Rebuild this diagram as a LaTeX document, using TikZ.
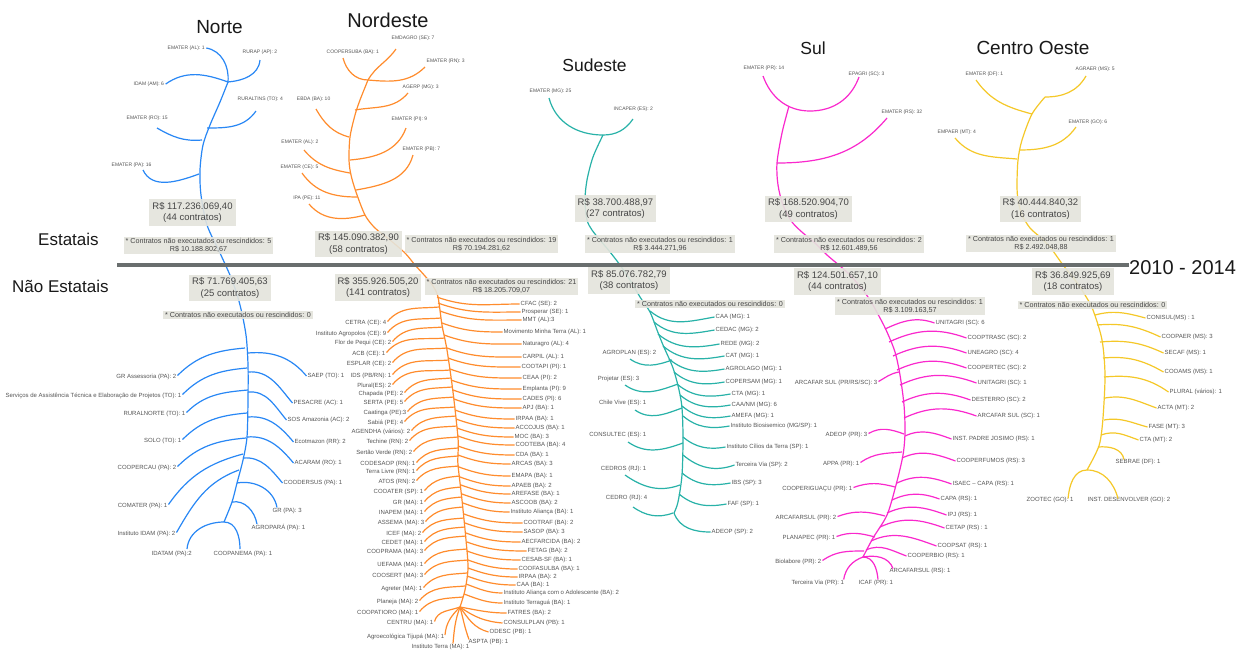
\documentclass[tikz,border=0pt]{standalone}
\usepackage{fontspec}
\setmainfont{Liberation Sans}
\definecolor{cN}{RGB}{40,135,245}
\definecolor{cNE}{RGB}{255,140,45}
\definecolor{cSE}{RGB}{40,178,168}
\definecolor{cS}{RGB}{250,40,205}
\definecolor{cCO}{RGB}{245,200,40}
\definecolor{boxc}{RGB}{228,228,220}
\definecolor{labc}{RGB}{85,85,85}
\definecolor{valc}{RGB}{70,70,70}
\definecolor{titc}{RGB}{25,25,25}
\definecolor{divc}{RGB}{105,110,110}
\tikzset{
 lbT/.style={font=\fontsize{5}{6}\selectfont,text=labc,inner sep=0.5pt},
 lbB/.style={font=\fontsize{6}{7}\selectfont,text=labc,inner sep=0.5pt},
 valbox/.style={fill=boxc,fill opacity=0.9,text opacity=1,text=valc,font=\fontsize{9.5}{11.5}\selectfont,align=center,inner xsep=3pt,inner ysep=3pt},
 notebox/.style={fill=boxc,fill opacity=0.9,text opacity=1,text=valc,font=\fontsize{7.2}{8}\selectfont,align=center,inner xsep=2pt,inner ysep=1.5pt},
 ttl/.style={text=titc,inner sep=0pt},
 lN/.style={draw=cN,line width=1.2pt},
 lNE/.style={draw=cNE,line width=1.2pt},
 lSE/.style={draw=cSE,line width=1.2pt},
 lS/.style={draw=cS,line width=1.2pt},
 lCO/.style={draw=cCO,line width=1.2pt},
 cNl/.style={out=45,in=185},
 cNr/.style={out=5,in=130},
 cNEr/.style={out=-20,in=180},
 cNEl/.style={out=50,in=185},
 cSEr/.style={out=-40,in=190},
 cSr/.style={out=25,in=160},
 cCOr/.style={out=10,in=160},
}
\newcommand\RR[8]{\node[lbB,anchor=west] (#3) at (#4,#5) {#8};\coordinate (#3j) at (#6,#7);\draw[#1] (#3j) to[#2] ([xshift=-0.5pt]#3.west);}
\newcommand\LL[8]{\node[lbB,anchor=east] (#3) at (#4,#5) {#8};\coordinate (#3j) at (#6,#7);\draw[#1] ([xshift=0.5pt,yshift=1.5pt]#3.east) to[#2] (#3j);}
\begin{document}
\begin{tikzpicture}[x=1pt,y=-1pt]
\fill[white] (0,0) rectangle (1242,649);
\useasboundingbox (0,0) rectangle (1242,649);

% ---------- trunks ----------
\draw[lN] plot[smooth] coordinates {(228,82) (220,102) (210,125) (203,145) (200,170) (201,195) (207,225) (220,253) (232,280) (240,305) (246,335) (248,365) (248,400) (247,437) (243,460) (237,483) (232,502) (224,522)};
\draw[lNE] plot[smooth] coordinates {(368,80) (360,100) (355,115) (350,137) (349,160) (351,175) (356,192) (365,215) (375,228) (390,240) (405,253) (415,265) (425,276) (433,286) (438,297) (442,325) (447,350) (453,392) (458,438) (458,455) (458,465) (462,500) (466,540) (468,568) (465,590) (460,607)};
\draw[lSE] plot[smooth] coordinates {(603,135) (593,157) (587,180) (585,200) (587,220) (592,230) (600,240) (610,252) (620,265) (630,280) (640,297) (650,312) (657,330) (663,345) (673,368) (679,390) (682,408) (683,438) (682,475) (678,502) (674,513)};
\draw[lS] plot[smooth] coordinates {(789,106) (782,133) (777,163) (778,185) (783,205) (792,222) (803,233) (815,243) (827,255) (850,275) (868,297) (880,318) (887,332) (895,352) (900,375) (904,405) (905,432) (903,455) (896,485) (887,515) (873,538) (863,557)};
\draw[lCO] plot[smooth] coordinates {(1045,97) (1032,114) (1022,140) (1018,160) (1017,185) (1018,200) (1022,215) (1030,228) (1040,237) (1050,247) (1063,265) (1075,280) (1085,295) (1093,310) (1102,340) (1105,375) (1103,418) (1100,442) (1095,455) (1087,470)};

% ---------- Norte top ----------
\node[lbT,anchor=west] (nt1) at (167,48) {EMATER (AL): 1};
\node[lbT,anchor=west] (nt2) at (242,52) {RURAP (AP): 2};
\node[lbT,anchor=west] (nt3) at (133,84) {IDAM (AM): 6};
\node[lbT,anchor=west] (nt4) at (237,99) {RURALTINS (TO): 4};
\node[lbT,anchor=west] (nt5) at (126,118) {EMATER (RO): 15};
\node[lbT,anchor=west] (nt6) at (111,165) {EMATER (PA): 16};
\coordinate (ntj1) at (228,82); \coordinate (ntj4) at (207,128);
\coordinate (ntj5) at (202,140); \coordinate (ntj6) at (199,174);
\coordinate (nte2) at (260,60); \coordinate (nte4) at (256,111);
\coordinate (nts5) at (157,128); \coordinate (nts6) at (143,170);
\draw[lN] ([xshift=1pt]nt1.east) to[out=-10,in=85] (ntj1);
\draw[lN] (ntj1) to[out=5,in=-95] (nte2);
\draw[lN] ([xshift=1pt]nt3.east) to[out=35,in=160] (ntj1);
\draw[lN] (ntj4) to[out=0,in=-125] (nte4);
\draw[lN] (nts5) to[out=-30,in=185] (ntj5);
\draw[lN] (nts6) to[out=-65,in=200] (ntj6);

% ---------- Norte bottom ----------
\LL{lN}{cNl}{nb1}{177}{377}{245}{348}{GR Assessoria (PA): 2}
\LL{lN}{cNl}{nb2}{182}{396}{247}{368}{Serviços de Assistência Técnica e Elaboração de Projetos (TO): 1}
\LL{lN}{cNl}{nb3}{186}{414}{248}{390}{RURALNORTE (TO): 1}
\LL{lN}{cNl}{nb4}{182}{441}{247}{413}{SOLO (TO): 1}
\LL{lN}{cNl}{nb5}{177}{468}{246}{438}{COOPERCAU (PA): 2}
\LL{lN}{{out=55,in=195}}{nb6}{168}{506}{243}{454}{COMATER (PA): 1}
\LL{lN}{{out=60,in=200}}{nb7}{176}{534}{239}{470}{Instituto IDAM (PA): 2}
\RR{lN}{cNr}{nb8}{307}{376}{248}{353}{SAEP (TO): 1}
\RR{lN}{cNr}{nb9}{293}{403}{248}{372}{PESACRE (AC): 1}
\RR{lN}{cNr}{nb10}{287}{420}{248}{392}{SOS Amazonia (AC): 2}
\RR{lN}{cNr}{nb11}{294}{442}{248}{417}{Ecotmazon (RR): 2}
\RR{lN}{cNr}{nb12}{294}{463}{247}{437}{ACARAM (RO): 1}
\RR{lN}{cNr}{nb13}{283}{483}{243}{458}{COODERSUS (PA): 1}
\node[lbB,anchor=west] (nb14) at (272,511) {GR (PA): 3};
\node[lbB,anchor=west] (nb15) at (251,528) {AGROPARÁ (PA): 1};
\coordinate (nb14j) at (237,483); \coordinate (nb15j) at (232,502);
\draw[lN] (nb14j) to[out=10,in=100] ([xshift=5pt]nb14.north west);
\draw[lN] (nb15j) to[out=10,in=100] ([xshift=6pt]nb15.north west);
\node[lbB,anchor=west] (nb16) at (151,554) {IDATAM (PA):2};
\node[lbB,anchor=west] (nb17) at (213,554) {COOPANEMA (PA): 1};
\coordinate (nbJ) at (224,522);
\coordinate (nb16e) at (187,549); \coordinate (nb17e) at (240,549);
\draw[lN] (nb16e) to[out=85,in=180] (nbJ) to[out=0,in=90] (nb17e);

% ---------- Nordeste top ----------
\node[lbT,anchor=west] (net1) at (391,38) {EMDAGRO (SE): 7};
\node[lbT,anchor=west] (net2) at (326,52) {COOPERSUBA (BA): 1};
\node[lbT,anchor=west] (net3) at (426,61) {EMATER (RN): 3};
\node[lbT,anchor=west] (net4) at (402,87) {AGERP (MG): 3};
\node[lbT,anchor=east] (net5) at (331,99) {EBDA (BA): 10};
\node[lbT,anchor=west] (net6) at (391,119) {EMATER (PI): 9};
\node[lbT,anchor=east] (net7) at (319,142) {EMATER (AL): 2};
\node[lbT,anchor=west] (net8) at (402,149) {EMATER (PB): 7};
\node[lbT,anchor=east] (net9) at (319,167) {EMATER (CE): 5};
\node[lbT,anchor=east] (net10) at (321,198) {IPA (PE): 11};
\coordinate (netj1) at (368,80); \coordinate (netj4) at (355,110);
\coordinate (netj5) at (349,137); \coordinate (netj6) at (350,160);
\coordinate (netj7) at (350,173); \coordinate (netj8) at (356,190);
\coordinate (netj9) at (357,197); \coordinate (netj10) at (365,215);
\coordinate (nete1) at (396,49); \coordinate (nete2) at (343,58);
\coordinate (nete3) at (425,67); \coordinate (nete4) at (408,93);
\coordinate (nete5) at (316,109); \coordinate (nete6) at (406,128);
\coordinate (nete7) at (304,150); \coordinate (nete8) at (413,155);
\coordinate (nete9) at (302,173); \coordinate (nete10) at (309,204);
\draw[lNE] (nete1) to[out=-125,in=60] (netj1);
\draw[lNE] (nete2) to[out=-75,in=180] (netj1);
\draw[lNE] (netj1) to[out=-5,in=-135] (nete3);
\draw[lNE] (netj4) to[out=10,in=-130] (nete4);
\draw[lNE] (nete5) to[out=-60,in=165] (netj5);
\draw[lNE] (netj6) to[out=5,in=-110] (nete6);
\draw[lNE] (nete7) to[out=-50,in=170] (netj7);
\draw[lNE] (netj8) to[out=10,in=-105] (nete8);
\draw[lNE] (nete9) to[out=-55,in=180] (netj9);
\draw[lNE] (nete10) to[out=-50,in=195] (netj10);

% ---------- Nordeste bottom ----------
\RR{lNE}{cNEr}{ner1}{520}{304}{437}{297}{CFAC (SE): 2}
\RR{lNE}{cNEr}{ner2}{521}{312}{438}{303}{Prosperar (SE): 1}
\RR{lNE}{cNEr}{ner3}{522}{320}{440}{311}{MMT (AL):3}
\RR{lNE}{cNEr}{ner4}{503}{332}{442}{323}{Movimento Minha Terra (AL): 1}
\RR{lNE}{cNEr}{ner5}{522}{344}{444}{335}{Naturagro (AL): 4}
\RR{lNE}{cNEr}{ner6}{522}{357}{447}{348}{CARPIL (AL): 1}
\RR{lNE}{cNEr}{ner7}{521}{367}{448}{358}{COOTAPI (PI): 1}
\RR{lNE}{cNEr}{ner8}{522}{378}{450}{369}{CEAA (PI): 2}
\RR{lNE}{cNEr}{ner9}{522}{389}{451}{380}{Emplanta (PI): 9}
\RR{lNE}{cNEr}{ner10}{522}{399}{453}{390}{CADES (PI): 6}
\RR{lNE}{cNEr}{ner11}{522}{408}{454}{399}{APJ (BA): 1}
\RR{lNE}{cNEr}{ner12}{515}{419}{455}{410}{IRPAA (BA): 1}
\RR{lNE}{cNEr}{ner13}{515}{428}{456}{419}{ACCOJUS (BA): 1}
\RR{lNE}{cNEr}{ner14}{514}{437}{457}{428}{MOC (BA): 3}
\RR{lNE}{cNEr}{ner15}{515}{445}{458}{436}{COOTEBA (BA): 4}
\RR{lNE}{cNEr}{ner16}{515}{455}{458}{446}{CDA (BA): 1}
\RR{lNE}{cNEr}{ner17}{511}{464}{458}{455}{ARCAS (BA): 3}
\RR{lNE}{cNEr}{ner18}{511}{476}{459}{467}{EMAPA (BA): 1}
\RR{lNE}{cNEr}{ner19}{511}{486}{460}{477}{APAEB (BA): 2}
\RR{lNE}{cNEr}{ner20}{511}{494}{461}{485}{AREFASE (BA): 1}
\RR{lNE}{cNEr}{ner21}{511}{503}{462}{494}{ASCOOB (BA): 2}
\RR{lNE}{cNEr}{ner22}{510}{512}{463}{503}{Instituto Aliança (BA): 1}
\RR{lNE}{cNEr}{ner23}{523}{523}{464}{514}{COOTRAF (BA): 2}
\RR{lNE}{cNEr}{ner24}{523}{532}{465}{523}{SASOP (BA): 3}
\RR{lNE}{cNEr}{ner25}{521}{542}{466}{533}{AECFARCIDA (BA): 2}
\RR{lNE}{cNEr}{ner26}{527}{551}{467}{542}{FETAG (BA): 2}
\RR{lNE}{cNEr}{ner27}{521}{560}{467}{551}{CESAB-SF (BA): 1}
\RR{lNE}{cNEr}{ner28}{518}{569}{468}{560}{COOFASULBA (BA): 1}
\RR{lNE}{cNEr}{ner29}{518}{577}{468}{568}{IRPAA (BA): 2}
\RR{lNE}{cNEr}{ner30}{516}{585}{467}{576}{CAA (BA): 1}
\RR{lNE}{cNEr}{ner31}{503}{593}{466}{584}{Instituto Aliança com o Adolescente (BA): 2}
\RR{lNE}{cNEr}{ner32}{503}{603}{464}{594}{Instituto Terraguá (BA): 1}
\RR{lNE}{{out=-10,in=180}}{ner33}{507}{613}{460}{607}{FATRES (BA): 2}
\RR{lNE}{{out=-35,in=175}}{ner34}{503}{623}{460}{607}{CONSULPLAN (PB): 1}
\RR{lNE}{{out=-55,in=165}}{ner35}{489}{632}{460}{607}{ODESC (PB): 1}
\node[lbB,anchor=west] (ner36) at (468,642) {ASPTA (PB): 1};
\coordinate (neJ0) at (460,607);
\draw[lNE] (neJ0) to[out=-75,in=110] ([xshift=1pt,yshift=-1pt]ner36.north west);
\LL{lNE}{cNEl}{nel1}{387}{323}{439}{307}{CETRA (CE): 4}
\LL{lNE}{cNEl}{nel2}{387}{334}{441}{318}{Instituto Agropolos (CE): 9}
\LL{lNE}{cNEl}{nel3}{392}{343}{443}{327}{Flor de Pequi (CE): 2}
\LL{lNE}{cNEl}{nel4}{386}{354}{445}{338}{ACB (CE): 1}
\LL{lNE}{cNEl}{nel5}{392}{364}{447}{348}{ESPLAR (CE): 2}
\LL{lNE}{cNEl}{nel6}{392}{376}{449}{360}{IDS (PB/RN): 1}
\LL{lNE}{cNEl}{nel7}{392}{386}{450}{370}{Plural(ES): 2}
\LL{lNE}{cNEl}{nel8}{404}{394}{451}{378}{Chapada (PE): 2}
\LL{lNE}{cNEl}{nel9}{404}{403}{452}{387}{SERTA (PE): 5}
\LL{lNE}{cNEl}{nel10}{407}{413}{454}{397}{Caatinga (PE):3}
\LL{lNE}{cNEl}{nel11}{404}{423}{455}{407}{Sabiá (PE): 4}
\LL{lNE}{cNEl}{nel12}{411}{432}{456}{416}{AGENDHA (vários): 2}
\LL{lNE}{cNEl}{nel13}{409}{442}{457}{426}{Techine (RN): 2}
\LL{lNE}{cNEl}{nel14}{413}{453}{458}{437}{Sertão Verde (RN): 2}
\LL{lNE}{cNEl}{nel15}{416}{464}{458}{448}{CODESAOP (RN): 1}
\LL{lNE}{cNEl}{nel16}{416}{472}{458}{456}{Terra Livre (RN): 1}
\LL{lNE}{cNEl}{nel17}{416}{482}{459}{466}{ATOS (RN): 2}
\LL{lNE}{cNEl}{nel18}{424}{492}{460}{476}{COOATER (SP): 1}
\LL{lNE}{cNEl}{nel19}{424}{503}{461}{487}{GR (MA): 1}
\LL{lNE}{cNEl}{nel20}{424}{513}{462}{497}{INAPEM (MA): 1}
\LL{lNE}{cNEl}{nel21}{425}{523}{463}{507}{ASSEMA (MA): 3}
\LL{lNE}{cNEl}{nel22}{422}{534}{464}{518}{ICEF (MA): 2}
\LL{lNE}{cNEl}{nel23}{424}{543}{465}{527}{CEDET (MA): 1}
\LL{lNE}{cNEl}{nel24}{424}{552}{466}{536}{COOPRAMA (MA): 3}
\LL{lNE}{cNEl}{nel25}{424}{565}{467}{549}{UEFAMA (MA): 1}
\LL{lNE}{cNEl}{nel26}{424}{576}{468}{560}{COOSERT (MA): 3}
\LL{lNE}{cNEl}{nel27}{423}{589}{467}{573}{Agreter (MA): 1}
\LL{lNE}{cNEl}{nel28}{419}{602}{465}{586}{Planeja (MA): 2}
\LL{lNE}{cNEl}{nel29}{419}{613}{463}{597}{COOPATIORO (MA): 1}
\LL{lNE}{{out=75,in=200}}{nel30}{434}{623}{460}{607}{CENTRU (MA): 1}
\node[lbB,anchor=east] (nel31) at (445,637) {Agroecológica Tijupá (MA): 1};
\node[lbB,anchor=east] (nel32) at (470,647) {Instituto Terra (MA): 1};
\draw[lNE] ([yshift=2pt]nel31.east) to[out=85,in=225] (neJ0);
\draw[lNE] ([xshift=-17pt]nel32.north east) to[out=85,in=250] (neJ0);

% ---------- Sudeste top ----------
\node[lbT,anchor=west] (set1) at (529,91) {EMATER (MG): 25};
\node[lbT,anchor=west] (set2) at (613,109) {INCAPER (ES): 2};
\coordinate (sete1) at (549,98); \coordinate (setj) at (603,135); \coordinate (sete2) at (633,119);
\draw[lSE] (sete1) to[out=-75,in=180] (setj) to[out=0,in=-125] (sete2);

% ---------- Sudeste bottom ----------
\RR{lSE}{cSEr}{ser1}{715}{317}{650}{311}{CAA (MG): 1}
\RR{lSE}{cSEr}{ser2}{715}{330}{654}{322}{CEDAC (MG): 2}
\RR{lSE}{cSEr}{ser3}{720}{344}{658}{334}{REDE (MG): 2}
\RR{lSE}{cSEr}{ser4}{725}{356}{663}{346}{CAT (MG): 1}
\RR{lSE}{cSEr}{ser5}{725}{369}{669}{359}{AGROLAGO (MG): 1}
\RR{lSE}{cSEr}{ser6}{725}{382}{674}{372}{COPERSAM (MG): 1}
\RR{lSE}{cSEr}{ser7}{731}{394}{677}{384}{CTA (MG): 1}
\RR{lSE}{cSEr}{ser8}{731}{405}{680}{395}{CAA/NM (MG): 6}
\RR{lSE}{cSEr}{ser9}{731}{416}{682}{406}{AMEFA (MG): 1}
\RR{lSE}{cSEr}{ser10}{730}{426}{683}{416}{Instituto Biosisemico (MG/SP): 1}
\RR{lSE}{cSEr}{ser11}{726}{447}{683}{437}{Instituto Cílios da Terra (SP): 1}
\RR{lSE}{{out=-40,in=200}}{ser12}{735}{465}{683}{455}{Terceira Via (SP): 2}
\RR{lSE}{cSEr}{ser13}{731}{483}{682}{473}{IBS (SP): 3}
\RR{lSE}{cSEr}{ser14}{727}{504}{679}{494}{FAF (SP): 1}
\RR{lSE}{{out=-70,in=180}}{ser15}{711}{532}{674}{513}{ADEOP (SP): 2}
\node[lbB,anchor=east] (sel1) at (657,353) {AGROPLAN (ES): 2};
\node[lbB,anchor=east] (sel2) at (640,379) {Projetar (ES): 3};
\node[lbB,anchor=east] (sel3) at (647,403) {Chile Vive (ES): 1};
\node[lbB,anchor=east] (sel4) at (647,435) {CONSULTEC (ES): 1};
\node[lbB,anchor=east] (sel5) at (647,469) {CEDROS (RJ): 1};
\node[lbB,anchor=east] (sel6) at (648,498) {CEDRO (RJ): 4};
\coordinate (sels1) at (630,359); \coordinate (selj1) at (672,360);
\coordinate (sels2) at (625,385); \coordinate (selj2) at (678,384);
\coordinate (sels3) at (635,410); \coordinate (selj3) at (682,408);
\coordinate (sels4) at (628,442); \coordinate (selj4) at (683,443);
\coordinate (sels5) at (625,475); \coordinate (selj5) at (680,485);
\coordinate (sels6) at (633,507); \coordinate (selj6) at (673,513);
\foreach \i in {1,...,6}{\draw[lSE] (sels\i) to[out=-35,in=200] (selj\i);}

% ---------- Sul top ----------
\node[lbT,anchor=west] (st1) at (743,68) {EMATER (PR): 14};
\node[lbT,anchor=west] (st2) at (848,74) {EPAGRI (SC): 3};
\node[lbT,anchor=west] (st3) at (881,112) {EMATER (RS): 32};
\coordinate (ste1) at (763,76); \coordinate (stb) at (810,111); \coordinate (ste2) at (859,77);
\coordinate (stj3) at (777,163); \coordinate (ste3) at (887,118);
\draw[lS] (ste1) to[out=-70,in=180] (stb) to[out=0,in=-110] (ste2);
\draw[lS] (stj3) to[out=0,in=-130] (ste3);

% ---------- Sul bottom ----------
\RR{lS}{cSr}{sr1}{935}{323}{885}{329}{UNITAGRI (SC): 6}
\RR{lS}{cSr}{sr2}{967}{338}{889}{342}{COOPTRASC (SC): 2}
\RR{lS}{cSr}{sr3}{967}{353}{893}{356}{UNEAGRO (SC): 4}
\RR{lS}{cSr}{sr4}{967}{368}{897}{370}{COOPERTEC (SC): 2}
\RR{lS}{cSr}{sr5}{977}{383}{900}{385}{UNITAGRI (SC): 1}
\RR{lS}{cSr}{sr6}{971}{400}{902}{402}{DESTERRO (SC): 2}
\RR{lS}{cSr}{sr7}{977}{416}{904}{418}{ARCAFAR SUL (SC): 1}
\RR{lS}{cSr}{sr8}{952}{439}{905}{436}{INST. PADRE JOSIMO (RS): 1}
\RR{lS}{cSr}{sr9}{956}{461}{902}{458}{COOPERFUMOS (RS): 3}
\RR{lS}{cSr}{sr10}{952}{484}{897}{483}{ISAEC – CAPA (RS): 1}
\RR{lS}{cSr}{sr11}{940}{499}{892}{500}{CAPA (RS): 1}
\RR{lS}{cSr}{sr12}{947}{515}{887}{513}{IPJ (RS): 1}
\RR{lS}{cSr}{sr13}{945}{528}{880}{527}{CETAP (RS) : 1}
\RR{lS}{cSr}{sr14}{937}{546}{871}{541}{COOPSAT (RS): 1}
\RR{lS}{cSr}{sr15}{907}{556}{866}{550}{COOPERBIO (RS): 1}
\node[lbB,anchor=west] (sr16) at (889,571) {ARCAFARSUL (RS): 1};
\coordinate (sJ) at (863,557);
\draw[lS] (sJ) to[out=10,in=110] ([xshift=4pt,yshift=-1pt]sr16.north west);
\LL{lS}{{out=30,in=190}}{sl1}{878}{383}{899}{372}{ARCAFAR SUL (PR/RS/SC): 3}
\LL{lS}{{out=30,in=160}}{sl2}{868}{435}{904}{434}{ADEOP (PR): 3}
\LL{lS}{{out=35,in=185}}{sl3}{860}{464}{902}{452}{APPA (PR): 1}
\LL{lS}{{out=20,in=165}}{sl4}{853}{489}{895}{487}{COOPERIGUAÇU (PR): 1}
\LL{lS}{{out=20,in=165}}{sl5}{837}{518}{885}{516}{ARCAFARSUL (PR): 2}
\LL{lS}{{out=20,in=165}}{sl6}{836}{538}{875}{537}{PLANAPEC (PR): 1}
\LL{lS}{{out=35,in=180}}{sl7}{822}{562}{864}{551}{Biolabore (PR): 2}
\node[lbB,anchor=west] (sl8) at (791,583) {Terceira Via (PR): 1};
\node[lbB,anchor=west] (sl9) at (858,583) {ICAF (PR): 1};
\draw[lS] ([xshift=-1pt]sl8.north east) to[out=80,in=200] (sJ);
\draw[lS] (sJ) to[out=0,in=95] ([xshift=20pt]sl9.north west);

% ---------- Centro Oeste top ----------
\node[lbT,anchor=west] (cot1) at (965,74) {EMATER (DF): 1};
\node[lbT,anchor=west] (cot2) at (1075,69) {AGRAER (MS): 5};
\node[lbT,anchor=west] (cot3) at (1068,122) {EMATER (GO): 6};
\node[lbT,anchor=west] (cot4) at (937,132) {EMPAER (MT): 4};
\coordinate (cots1) at (976,80); \coordinate (cotj1) at (1032,114);
\coordinate (cotj2) at (1045,97); \coordinate (cote2) at (1086,76);
\coordinate (cotj3) at (1019,150); \coordinate (cote3) at (1076,127);
\coordinate (cots4) at (955,138); \coordinate (cotj4) at (1017,159);
\draw[lCO] (cots1) to[out=-55,in=165] (cotj1);
\draw[lCO] (cotj2) to[out=0,in=-120] (cote2);
\draw[lCO] (cotj3) to[out=0,in=-125] (cote3);
\draw[lCO] (cots4) to[out=-50,in=175] (cotj4);

% ---------- Centro Oeste bottom ----------
\RR{lCO}{{out=15,in=165}}{cor1}{1146}{318}{1095}{315}{CONISUL(MS) : 1}
\RR{lCO}{{out=5,in=155}}{cor2}{1161}{337}{1097}{325}{COOPAER (MS): 3}
\RR{lCO}{{out=5,in=155}}{cor3}{1164}{353}{1100}{342}{SECAF (MS): 1}
\RR{lCO}{{out=5,in=150}}{cor4}{1164}{372}{1103}{358}{COOAMS (MS): 1}
\RR{lCO}{{out=5,in=145}}{cor5}{1169}{392}{1104}{377}{PLURAL (vários): 1}
\RR{lCO}{cCOr}{cor6}{1157}{408}{1105}{398}{ACTA (MT): 2}
\RR{lCO}{{out=10,in=165}}{cor7}{1148}{427}{1104}{420}{FASE (MT): 3}
\RR{lCO}{{out=20,in=160}}{cor8}{1139}{440}{1101}{435}{CTA (MT): 2}
\node[lbB,anchor=west] (cor9) at (1115,462) {SEBRAE (DF): 1};
\node[lbB,anchor=west] (cor10) at (1087,500) {INST. DESENVOLVER (GO): 2};
\node[lbB,anchor=west] (col1) at (1026,500) {ZOOTEC (GO): 1};
\coordinate (cor9j) at (1098,447); \coordinate (coJ) at (1087,470);
\draw[lCO] (cor9j) to[out=5,in=100] ([xshift=9pt,yshift=-1pt]cor9.north west);
\draw[lCO] (coJ) to[out=0,in=105] ([xshift=31pt,yshift=-2pt]cor10.north west);
\draw[lCO] (coJ) to[out=180,in=85] ([xshift=-6pt,yshift=-2pt]col1.north east);

% ---------- divider and side titles ----------
\node[ttl,font=\fontsize{20}{24}\selectfont,anchor=base west] (t2010) at (1129,274) {2010 - 2014};
\coordinate (dL) at (117,265);
\draw[divc,line width=3.5pt] (dL) -- (dL -| t2010.west);
\node[ttl,font=\fontsize{17}{20}\selectfont,anchor=base west] (tE) at (38,245.5) {Estatais};
\node[ttl,font=\fontsize{17}{20}\selectfont,anchor=base west] (tNE) at (12,292) {Não Estatais};

% ---------- region titles ----------
\node[ttl,font=\fontsize{19}{22}\selectfont] (tN) at (219.5,27.5) {Norte};
\node[ttl,font=\fontsize{20}{24}\selectfont] (tNd) at (388,20) {Nordeste};
\node[ttl,font=\fontsize{17.5}{21}\selectfont] (tSE) at (594.5,65) {Sudeste};
\node[ttl,font=\fontsize{17.5}{21}\selectfont] (tS) at (813,48) {Sul};
\node[ttl,font=\fontsize{19}{22}\selectfont] (tCO) at (1033,47.5) {Centro Oeste};

% ---------- value boxes ----------
\node[valbox] (vN1) at (192.5,212.5) {R\$ 117.236.069,40\\(44 contratos)};
\node[notebox] (nN1) at (198.5,245.5) {* Contratos não executados ou rescindidos: 5\\R\$ 10.188.802,67};
\node[valbox] (vN2) at (230,288) {R\$ 71.769.405,63\\(25 contratos)};
\node[notebox] (nN2) at (238,315) {* Contratos não executados ou rescindidos: 0};
\node[valbox] (vNE1) at (358.5,244) {R\$ 145.090.382,90\\(58 contratos)};
\node[notebox] (nNE1) at (481.5,244) {* Contratos não executados ou rescindidos: 19\\R\$ 70.194.281,62};
\node[valbox] (vNE2) at (378,287.5) {R\$ 355.926.505,20\\(141 contratos)};
\node[notebox] (nNE2) at (501.5,286.5) {* Contratos não executados ou rescindidos: 21\\R\$ 18.205.709,07};
\node[valbox] (vSE1) at (615.5,208.5) {R\$ 38.700.488,97\\(27 contratos)};
\node[notebox] (nSE1) at (660,244) {* Contratos não executados ou rescindidos: 1\\R\$ 3.444.271,96};
\node[valbox] (vSE2) at (629,280.5) {R\$ 85.076.782,79\\(38 contratos)};
\node[notebox] (nSE2) at (710,304) {* Contratos não executados ou rescindidos: 0};
\node[valbox] (vS1) at (808.5,209) {R\$ 168.520.904,70\\(49 contratos)};
\node[notebox] (nS1) at (849,244) {* Contratos não executados ou rescindidos: 2\\R\$ 12.601.489,56};
\node[valbox] (vS2) at (837.5,281.5) {R\$ 124.501.657,10\\(44 contratos)};
\node[notebox] (nS2) at (910,306) {* Contratos não executados ou rescindidos: 1\\R\$ 3.109.163,57};
\node[valbox] (vCO1) at (1040.5,209) {R\$ 40.444.840,32\\(16 contratos)};
\node[notebox] (nCO1) at (1041,243.5) {* Contratos não executados ou rescindidos: 1\\R\$ 2.492.048,88};
\node[valbox] (vCO2) at (1073,281.5) {R\$ 36.849.925,69\\(18 contratos)};
\node[notebox] (nCO2) at (1092.5,305) {* Contratos não executados ou rescindidos: 0};
\end{tikzpicture}
\end{document}
